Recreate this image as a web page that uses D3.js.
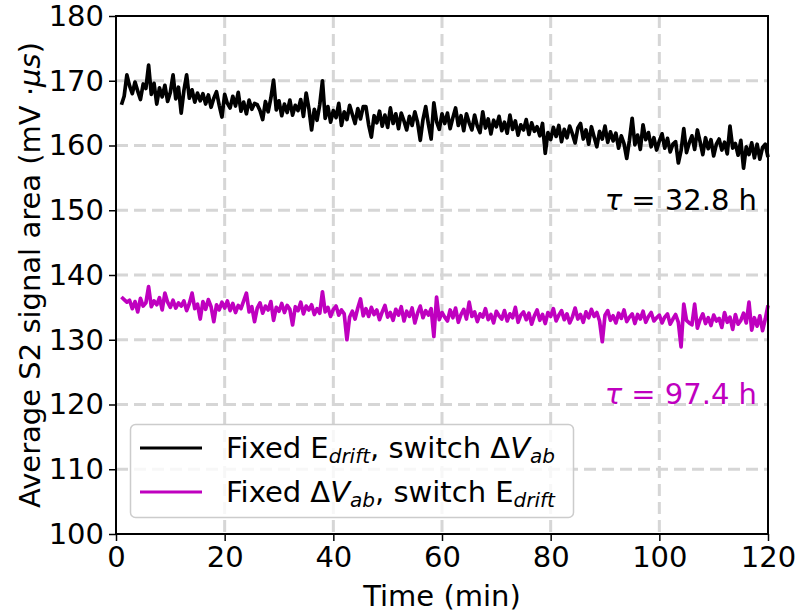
<!DOCTYPE html>
<html>
<head>
<meta charset="utf-8">
<script src="https://cdn.jsdelivr.net/npm/d3@7"></script>
<style>
  body { margin: 0; background: #fff; }
  text { font-family: "DejaVu Sans", sans-serif; }
</style>
</head>
<body>
<svg id="chart" width="800" height="615"></svg>
<script>
// time samples every 0.5 min, from 1 to 120
var times = d3.range(1, 120.001, 0.5);

var xTicks = [0, 20, 40, 60, 80, 100, 120];
var yTicks = [100, 110, 120, 130, 140, 150, 160, 170, 180];

// Fixed E_drift, switch dV_ab
var blackVals = [
  166.3, 167.6, 170.9, 169.2, 168.0, 169.8, 168.4, 167.1, 169.5, 168.8,
  172.4, 167.9, 169.6, 166.4, 168.9, 167.5, 169.3, 166.8, 168.2, 170.9,
  167.2, 169.0, 165.0, 168.5, 170.9, 167.3, 168.6, 166.7, 168.1, 166.9,
  168.0, 166.4, 167.8, 165.9, 167.3, 168.3, 166.2, 164.4, 167.9, 166.5,
  165.8, 167.6, 166.1, 168.2, 165.3, 166.7, 164.9, 167.0, 165.6, 166.5,
  166.3, 165.4, 164.0, 166.8, 165.2, 167.3, 170.1, 165.5, 166.9, 164.6,
  166.4, 165.1, 167.0, 164.7, 166.2, 165.4, 167.1, 164.5, 168.1, 165.7,
  162.4, 165.6, 163.9, 166.3, 170.0, 164.2, 166.0, 163.6, 165.4, 164.3,
  166.5, 163.1, 165.2, 164.0, 166.2, 164.8, 163.4, 165.7, 164.1, 166.0,
  166.0, 163.2, 161.3, 164.6, 163.5, 165.3, 163.0, 164.7, 162.8, 165.8,
  163.4, 164.9, 162.6, 165.0, 163.8, 162.4, 164.5, 163.1, 165.2, 163.6,
  160.8, 164.0, 166.0, 163.3, 161.0, 166.6, 163.7, 162.5, 164.9, 163.4,
  165.0, 162.6, 164.3, 165.8, 163.1, 164.6, 162.3, 164.9, 163.5, 162.4,
  164.7, 163.0, 162.0, 165.2, 162.7, 164.1, 161.8, 163.9, 162.9, 164.5,
  162.3, 163.6, 161.9, 164.7, 162.5, 163.8, 161.6, 163.2, 162.4, 164.0,
  161.7, 163.5, 162.2, 162.9, 161.5, 163.4, 158.8, 162.0, 160.9, 162.8,
  161.4, 163.1, 160.6, 162.5, 161.2, 163.0, 161.8, 160.4, 162.7, 163.4,
  161.0, 162.4, 160.2, 162.9, 161.3, 159.8, 162.2, 161.0, 163.0, 160.5,
  162.1, 160.7, 161.9, 159.6, 161.5, 160.3, 158.0, 160.8, 164.2, 160.1,
  161.6, 159.4, 163.2, 160.9, 162.0, 159.8, 161.2, 159.3, 160.7, 161.8,
  159.6, 161.1, 159.0, 160.2, 160.6, 157.3, 159.2, 162.6, 158.9, 160.4,
  161.5, 159.4, 162.4, 160.6, 158.6, 161.2, 159.5, 160.9, 158.4, 160.2,
  161.0, 159.3, 160.5, 158.7, 163.0, 159.6, 160.3, 158.5, 160.8, 156.5,
  159.8, 158.6, 160.4, 158.1, 160.2, 157.9, 159.7, 160.2, 158.2
];

// Fixed dV_ab, switch E_drift
var magentaVals = [
  136.6, 136.2, 135.8, 136.1, 134.8, 135.9, 134.3, 136.4, 135.2, 135.7,
  138.2, 135.1, 136.0, 135.4, 136.5, 134.6, 137.2, 135.8, 135.0, 136.1,
  134.9, 135.7, 135.2, 136.0, 134.5, 135.6, 137.2, 134.8, 135.5, 133.2,
  135.9, 134.7, 136.2, 135.1, 132.8, 135.4, 134.6, 135.8, 134.9, 136.0,
  134.5, 135.6, 134.2, 135.3, 134.8, 136.0, 137.2, 134.3, 135.1, 132.8,
  134.9, 135.7, 134.1, 135.2, 134.6, 135.9, 133.0, 135.0, 134.4, 135.6,
  134.2, 135.3, 134.7, 132.3, 135.1, 134.5, 135.8, 134.0, 135.2, 134.6,
  135.4, 133.9, 134.8, 134.1, 137.4, 134.3, 135.0, 133.6, 134.7, 135.2,
  133.8, 134.6, 134.0, 130.0, 133.5, 134.4, 133.2, 134.9, 136.3, 133.7,
  134.8, 133.6, 135.0, 133.9, 134.6, 133.1, 134.3, 135.3, 133.5, 134.2,
  133.0, 134.7, 133.8, 135.1, 132.9, 134.4, 133.6, 134.9, 132.6, 134.1,
  135.2, 133.4, 134.5, 133.8, 134.8, 130.5, 136.6, 133.1, 134.2, 133.5,
  132.9, 134.6, 133.4, 134.9, 132.7, 133.9, 134.7, 133.2, 135.8, 133.6,
  134.3, 132.8, 134.0, 133.5, 134.8, 133.1, 133.9, 132.6, 134.4, 133.7,
  133.2, 134.5, 132.9, 134.0, 133.4, 135.0, 132.7, 133.8, 134.3, 133.1,
  134.1, 132.4, 133.7, 134.6, 133.0, 133.9, 132.5, 134.2, 133.6, 134.8,
  132.9, 133.8, 134.5, 133.1, 134.0, 132.6, 133.5, 134.9, 133.2, 133.9,
  132.7, 134.3, 133.4, 134.7, 133.6, 134.2, 132.9, 129.7, 133.8, 134.5,
  133.0, 133.7, 132.6, 134.1, 133.3, 134.6, 132.8, 133.5, 134.0, 132.5,
  133.9, 133.2, 134.4, 132.7, 133.6, 134.2, 132.9, 133.4, 133.8, 132.6,
  133.5, 134.0, 132.4, 133.2, 133.9, 132.7, 128.9, 135.5, 133.0, 132.6,
  132.3, 135.5, 131.8, 133.1, 134.0, 132.5, 133.4, 132.2, 133.8, 132.9,
  133.3, 131.9, 134.2, 132.7, 133.5, 131.6, 133.9, 132.4, 133.0, 134.1,
  132.6, 135.8, 131.5, 133.4, 132.1, 133.7, 131.4, 133.2, 135.3
];

var black = "#000000", magenta = "#bf00bf";
var fs = "29px", subFs = "20px";

var svg = d3.select("#chart");
var pLeft = 116, pRight = 768, pTop = 16, pBottom = 534;

var x = d3.scaleLinear().domain([0, 120]).range([pLeft, pRight]);
var y = d3.scaleLinear().domain([100, 180]).range([pBottom, pTop]);

// grid
var grid = svg.append("g");
grid.selectAll(".gx").data(xTicks.slice(1, -1)).enter().append("line")
    .attr("x1", function (d) { return x(d); }).attr("x2", function (d) { return x(d); })
    .attr("y1", pTop).attr("y2", pBottom);
grid.selectAll(".gy").data(yTicks.slice(1, -1)).enter().append("line")
    .attr("x1", pLeft).attr("x2", pRight)
    .attr("y1", function (d) { return y(d); }).attr("y2", function (d) { return y(d); });
grid.selectAll("line")
    .attr("stroke", "#d6d6d6").attr("stroke-width", 3)
    .attr("stroke-dasharray", "12,6");

// lines
var line = d3.line()
    .x(function (d) { return x(d[0]); })
    .y(function (d) { return y(d[1]); });

svg.append("path")
    .datum(d3.zip(times, blackVals))
    .attr("d", line).attr("fill", "none")
    .attr("stroke", black).attr("stroke-width", 3.7).attr("stroke-linejoin", "round");

svg.append("path")
    .datum(d3.zip(times, magentaVals))
    .attr("d", line).attr("fill", "none")
    .attr("stroke", magenta).attr("stroke-width", 3.7).attr("stroke-linejoin", "round");

// axes
var xAxis = svg.append("g").attr("transform", "translate(0," + pBottom + ")")
    .call(d3.axisBottom(x).tickValues(xTicks).tickSize(7).tickPadding(5));
var yAxis = svg.append("g").attr("transform", "translate(" + pLeft + ",0)")
    .call(d3.axisLeft(y).tickValues(yTicks).tickSize(7).tickPadding(5));
[xAxis, yAxis].forEach(function (a) {
    a.select(".domain").remove();
    a.selectAll(".tick line").attr("stroke", "#000").attr("stroke-width", 1.5);
    a.selectAll(".tick text").attr("fill", "#000")
        .style("font-family", "DejaVu Sans").style("font-size", fs);
});

// frame
svg.append("rect")
    .attr("x", pLeft).attr("y", pTop)
    .attr("width", pRight - pLeft).attr("height", pBottom - pTop)
    .attr("fill", "none").attr("stroke", "#000").attr("stroke-width", 2);

// axis labels
svg.append("text")
    .attr("x", (pLeft + pRight) / 2).attr("y", 606)
    .attr("text-anchor", "middle").style("font-size", fs)
    .text("Time (min)");

var yl = svg.append("text")
    .attr("transform", "translate(40," + (pTop + pBottom) / 2 + ") rotate(-90)")
    .attr("text-anchor", "middle").style("font-size", fs);
yl.append("tspan").text("Average S2 signal area (mV \u00b7");
yl.append("tspan").style("font-style", "italic").text("\u03bcs");
yl.append("tspan").text(")");

// tau annotations
function tau(val, ty, col) {
    var t = svg.append("text")
        .attr("x", 757).attr("y", ty)
        .attr("text-anchor", "end").attr("fill", col)
        .style("font-size", fs);
    t.append("tspan").style("font-style", "italic").text("\u03c4");
    t.append("tspan").text(" = " + val + " h");
}
tau("32.8", 210, black);
tau("97.4", 404, magenta);

// legend
var lg = svg.append("g");
lg.append("rect")
    .attr("x", 130.5).attr("y", 424.5).attr("width", 443).attr("height", 93)
    .attr("rx", 5).attr("fill", "#fff").attr("fill-opacity", 0.8)
    .attr("stroke", "#cccccc").attr("stroke-width", 1.5);

var items = [
    { col: black, parts: [["Fixed E", ""], ["drift", "sub"], [", switch \u0394", ""], ["V", "it"], ["ab", "sub"]] },
    { col: magenta, parts: [["Fixed \u0394", ""], ["V", "it"], ["ab", "sub"], [", switch E", ""], ["drift", "sub"]] }
];
items.forEach(function (it, i) {
    var ly = 448 + i * 44;
    lg.append("line")
        .attr("x1", 140).attr("x2", 202).attr("y1", ly).attr("y2", ly)
        .attr("stroke", it.col).attr("stroke-width", 3);
    var t = lg.append("text").attr("x", 226).attr("y", ly + 10)
        .style("font-size", fs);
    var low = false;
    it.parts.forEach(function (p) {
        var s = t.append("tspan").text(p[0]);
        if (p[1] === "sub") {
            s.style("font-style", "italic").style("font-size", subFs);
            if (!low) { s.attr("dy", 5); low = true; }
        } else {
            if (p[1] === "it") s.style("font-style", "italic");
            if (low) { s.attr("dy", -5); low = false; }
        }
    });
});
</script>
</body>
</html>
